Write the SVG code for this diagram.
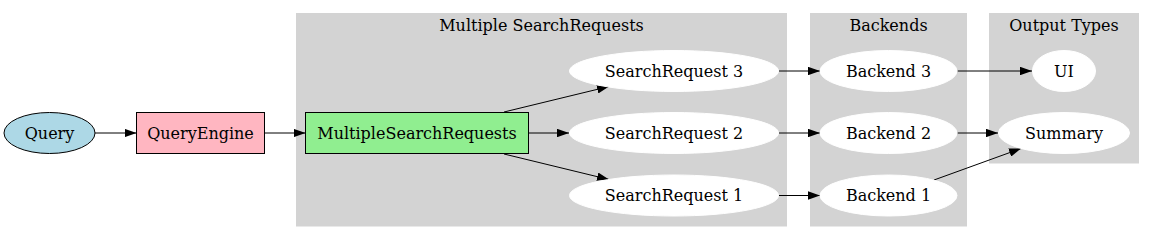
<svg xmlns="http://www.w3.org/2000/svg" width="1152" height="240" viewBox="0 0 1152 240">
<style>
text{font-family:"DejaVu Serif","Liberation Serif",serif;font-size:16px;text-anchor:middle;fill:#000}
.cl{fill:#d3d3d3;stroke:#d3d3d3}
.w{fill:#fff;stroke:#fff}
.e{fill:none;stroke:#000;stroke-width:1;marker-end:url(#arr)}
</style>
<defs>
<marker id="arr" viewBox="0 0 12 8.5" refX="12" refY="4.25" markerWidth="12" markerHeight="8.5" markerUnits="userSpaceOnUse" orient="auto">
<path d="M0,0 L12,4.25 L0,8.5 z" fill="#000"/>
</marker>
</defs>
<rect width="1152" height="240" fill="#fff"/>
<g id="cluster_msr">
<rect class="cl" x="296.5" y="13.5" width="490" height="212.5"/>
<text x="541.5" y="31">Multiple SearchRequests</text>
</g>
<g id="cluster_backends">
<rect class="cl" x="810.5" y="13.5" width="156" height="212.5"/>
<text x="888.5" y="31">Backends</text>
</g>
<g id="cluster_outputs">
<rect class="cl" x="989.5" y="13.5" width="149" height="149.5"/>
<text x="1064" y="31">Output Types</text>
</g>
<g id="edges">
<path class="e" d="M95,133 L136.5,133"/>
<path class="e" d="M264.5,133 L305.5,133"/>
<path class="e" d="M504,112 L609,86.5"/>
<path class="e" d="M528.5,133 L569,133"/>
<path class="e" d="M504,154 L609,179.5"/>
<path class="e" d="M779,71 L820,71"/>
<path class="e" d="M779,133 L820,133"/>
<path class="e" d="M779,195.5 L820,195.5"/>
<path class="e" d="M957.5,71 L1032,71"/>
<path class="e" d="M957.5,133 L998,133"/>
<path class="e" d="M934,180 L1021,148.5"/>
</g>
<g id="node_query">
<ellipse cx="49.5" cy="133" rx="45.5" ry="20.5" fill="#add8e6" stroke="#000"/>
<text x="49.5" y="138.5">Query</text>
</g>
<g id="node_queryengine">
<rect x="136.5" y="112.5" width="128" height="41" fill="#ffb6c1" stroke="#000"/>
<text x="200.5" y="138.5">QueryEngine</text>
</g>
<g id="node_msr">
<rect x="305.5" y="112.5" width="223" height="41" fill="#90ee90" stroke="#000"/>
<text x="417" y="138.5">MultipleSearchRequests</text>
</g>
<g id="node_sr3">
<ellipse class="w" cx="674" cy="71" rx="104.5" ry="20.5"/>
<text x="674" y="76.5">SearchRequest 3</text>
</g>
<g id="node_sr2">
<ellipse class="w" cx="674" cy="133" rx="104.5" ry="20.5"/>
<text x="674" y="138.5">SearchRequest 2</text>
</g>
<g id="node_sr1">
<ellipse class="w" cx="674" cy="195.5" rx="104.5" ry="20.5"/>
<text x="674" y="201">SearchRequest 1</text>
</g>
<g id="node_b3">
<ellipse class="w" cx="888.5" cy="71" rx="68.5" ry="20.5"/>
<text x="888.5" y="76.5">Backend 3</text>
</g>
<g id="node_b2">
<ellipse class="w" cx="888.5" cy="133" rx="68.5" ry="20.5"/>
<text x="888.5" y="138.5">Backend 2</text>
</g>
<g id="node_b1">
<ellipse class="w" cx="888.5" cy="195.5" rx="68.5" ry="20.5"/>
<text x="888.5" y="201">Backend 1</text>
</g>
<g id="node_ui">
<ellipse class="w" cx="1064" cy="71" rx="31.5" ry="20.5"/>
<text x="1064" y="76.5">UI</text>
</g>
<g id="node_summary">
<ellipse class="w" cx="1064" cy="133" rx="65.5" ry="20.5"/>
<text x="1064" y="138.5">Summary</text>
</g>
</svg>
